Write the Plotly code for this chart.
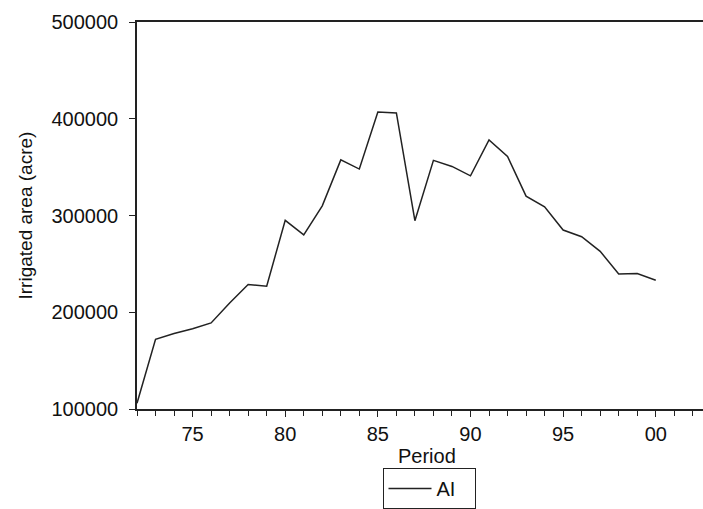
import plotly.graph_objects as go

# Irrigated area by year, 1972-2000
years = list(range(1972, 2001))
irrigated_area = [
    106000, 172000, 178000, 183000, 189000, 209500, 228600, 227000,
    295000, 280000, 310000, 357500, 348000, 407000, 406000, 294600,
    357000, 350700, 341000, 378000, 361000, 320000, 308900, 285000,
    278000, 263000, 239500, 240000, 233000,
]

x_tick_vals = [1975, 1980, 1985, 1990, 1995, 2000]
x_tick_text = ["75", "80", "85", "90", "95", "00"]
y_tick_vals = [100000, 200000, 300000, 400000, 500000]
y_tick_text = ["100000", "200000", "300000", "400000", "500000"]

FONT = "Liberation Sans, Arial, sans-serif"
PLOT_W = 703 - 137
PLOT_H = 509 - 22 - 95

fig = go.Figure()
fig.add_trace(go.Scatter(
    x=years,
    y=irrigated_area,
    mode="lines",
    name="AI",
    line=dict(color="#222222", width=1.5),
))

fig.update_layout(
    width=703,
    height=509,
    margin=dict(l=137, r=0, t=22, b=95),
    paper_bgcolor="white",
    plot_bgcolor="white",
    font=dict(family=FONT, size=20, color="#111111"),
    showlegend=True,
    legend=dict(
        orientation="h",
        x=(429 - 137) / PLOT_W, y=(414 - 474) / PLOT_H,
        xanchor="center", yanchor="top",
        bordercolor="#222222", borderwidth=1,
        itemwidth=43, entrywidth=33,
        font=dict(size=20),
        bgcolor="white",
    ),
    xaxis=dict(
        range=[1972, 2002.55],
        showgrid=False, zeroline=False,
        showline=True, linecolor="#222222", linewidth=1.5, mirror=True,
        ticks="outside", ticklen=6, tickcolor="#222222",
        tickvals=x_tick_vals, ticktext=x_tick_text,
        minor=dict(dtick=1, tick0=1972, ticks="outside", ticklen=5,
                   tickcolor="#222222"),
        tickfont=dict(size=20),
    ),
    yaxis=dict(
        range=[100000, 500000],
        showgrid=False, zeroline=False,
        showline=True, linecolor="#222222", linewidth=1.5, mirror=False,
        ticks="outside", ticklen=6, tickcolor="#222222",
        ticklabelstandoff=7,
        tickvals=y_tick_vals, ticktext=y_tick_text,
        tickfont=dict(size=20),
    ),
    annotations=[
        dict(text="Period", x=(427 - 137) / PLOT_W, y=(414 - 462) / PLOT_H,
             xref="paper", yref="paper",
             xanchor="center", yanchor="middle", showarrow=False,
             font=dict(size=20)),
        dict(text="Irrigated area (acre)", x=-(137 - 25) / PLOT_W, y=0.5,
             xref="paper", yref="paper", xanchor="center", yanchor="middle",
             showarrow=False, textangle=-90, font=dict(size=19)),
    ],
)

fig.write_html("out.html")
